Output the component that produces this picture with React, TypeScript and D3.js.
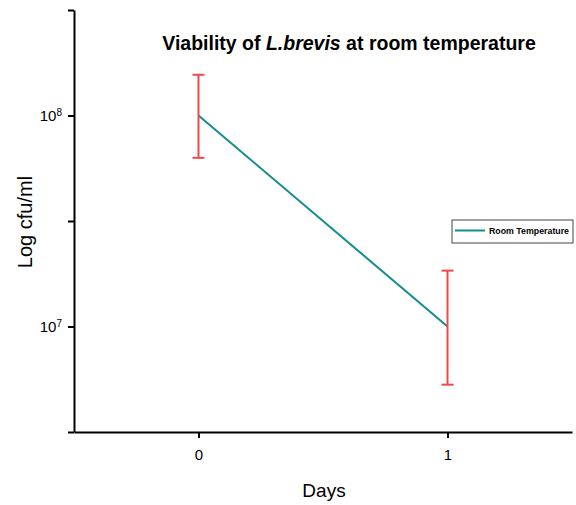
import { useEffect, useRef } from 'react';
import * as d3 from 'd3';

const days = [0, 1];
const cfu = [1e8, 1e7];
const cfuUpper = [1.56e8, 1.84e7];
const cfuLower = [6.3e7, 5.3e6];
const yTicks = [10 ** 6.5, 1e7, 10 ** 7.5, 1e8, 10 ** 8.5];
const yLabels: Record<string, string> = { '7': '7', '8': '8' };

export default function App() {
  const ref = useRef<SVGSVGElement>(null);

  useEffect(() => {
    const svg = d3.select(ref.current);
    svg.selectAll('*').remove();
    const font = 'Liberation Sans, Arial, sans-serif';

    const x = d3.scaleLinear().domain([-0.5, 1.5]).range([74, 572]);
    const y = d3.scaleLog().domain([10 ** 6.5, 10 ** 8.5]).range([432, 10]);

    // y axis
    const ya = svg.append('g').attr('transform', `translate(${x(-0.5)},0)`)
      .call(d3.axisLeft(y).tickValues(yTicks).tickSize(6).tickSizeOuter(0).tickFormat(() => ''));
    ya.select('.domain').attr('stroke', '#000').attr('stroke-width', 2);
    ya.selectAll('line').attr('stroke', '#000').attr('stroke-width', 2);
    ya.selectAll<SVGGElement, number>('.tick').each(function (d) {
      const e = Math.round(Math.log10(d) * 10) / 10;
      const lab = yLabels[String(e)];
      if (!lab) return;
      const t = d3.select(this).append('text')
        .attr('x', -12).attr('dy', '0.36em').attr('text-anchor', 'end')
        .attr('font-family', font).attr('font-size', 15).attr('fill', '#000');
      t.append('tspan').text('10');
      t.append('tspan').attr('dy', '-0.55em').attr('font-size', 10).text(lab);
    });

    // x axis
    const xa = svg.append('g').attr('transform', `translate(0,${y(10 ** 6.5)})`)
      .call(d3.axisBottom(x).tickValues(days).tickSize(6).tickSizeOuter(0).tickFormat(d3.format('d')));
    xa.select('.domain').attr('stroke', '#000').attr('stroke-width', 2);
    xa.selectAll('line').attr('stroke', '#000').attr('stroke-width', 2);
    xa.selectAll('text').attr('font-family', font).attr('font-size', 15).attr('fill', '#000').attr('dy', '1.25em');

    // line
    const line = d3.line<number>().x((_, i) => x(days[i])).y(d => y(d));
    svg.append('path').datum(cfu).attr('d', line)
      .attr('fill', 'none').attr('stroke', '#148c8c').attr('stroke-width', 2);

    // error bars
    const red = '#f04848';
    days.forEach((dd, i) => {
      const cx = x(dd);
      svg.append('line').attr('x1', cx).attr('x2', cx).attr('y1', y(cfuUpper[i])).attr('y2', y(cfuLower[i]))
        .attr('stroke', red).attr('stroke-width', 2);
      [cfuUpper[i], cfuLower[i]].forEach(v => {
        svg.append('line').attr('x1', cx - 6).attr('x2', cx + 6).attr('y1', y(v)).attr('y2', y(v))
          .attr('stroke', red).attr('stroke-width', 2);
      });
    });

    // title
    const title = svg.append('text').attr('x', 349).attr('y', 50).attr('text-anchor', 'middle')
      .attr('font-family', font).attr('font-size', 19.5).attr('font-weight', 'bold').attr('fill', '#000');
    title.append('tspan').text('Viability of ');
    title.append('tspan').attr('font-style', 'italic').text('L.brevis');
    title.append('tspan').text(' at room temperature');

    // axis labels
    svg.append('text').attr('transform', 'rotate(-90)').attr('x', -222).attr('y', 32)
      .attr('text-anchor', 'middle').attr('font-family', font).attr('font-size', 20).text('Log cfu/ml');
    svg.append('text').attr('x', 324).attr('y', 497)
      .attr('text-anchor', 'middle').attr('font-family', font).attr('font-size', 19).text('Days');

    // legend
    svg.append('rect').attr('x', 452).attr('y', 220).attr('width', 121).attr('height', 23)
      .attr('fill', '#fff').attr('stroke', '#444').attr('stroke-width', 1);
    svg.append('line').attr('x1', 455).attr('x2', 485).attr('y1', 230.5).attr('y2', 230.5)
      .attr('stroke', '#148c8c').attr('stroke-width', 2);
    svg.append('text').attr('x', 489).attr('y', 234).attr('font-family', font)
      .attr('font-size', 8.8).attr('font-weight', 'bold').text('Room Temperature');
  }, []);

  return (
    <svg ref={ref} width={576} height={505}
      style={{ position: 'absolute', left: 0, top: 0, background: '#fff' }} />
  );
}
